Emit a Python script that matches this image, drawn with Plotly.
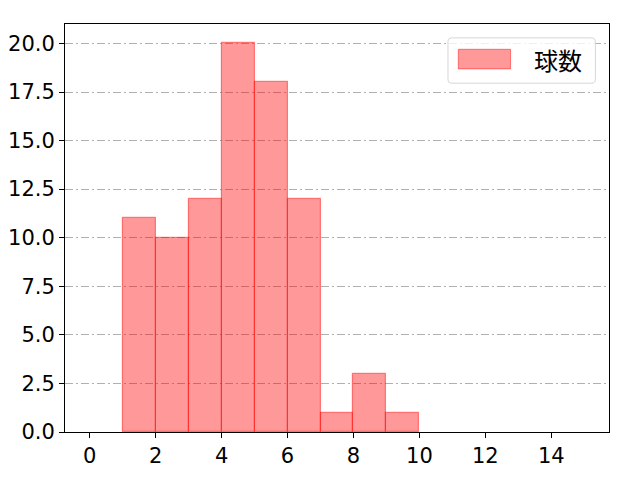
import plotly.graph_objects as go

# histogram bins (left edges) and counts
bin_left = [1, 2, 3, 4, 5, 6, 7, 8, 9]
counts = [11, 10, 12, 20, 18, 12, 1, 3, 1]
bin_width = 1
series_name = "球数"

x_ticks = [0, 2, 4, 6, 8, 10, 12, 14]
y_ticks = [0, 2.5, 5, 7.5, 10, 12.5, 15, 17.5, 20]

tick_font = "DejaVu Sans, sans-serif"
cjk_font = "Noto Sans CJK JP, sans-serif"

fig = go.Figure()

fig.add_trace(go.Bar(
    x=[b + bin_width / 2 for b in bin_left],
    y=counts,
    width=bin_width,
    marker=dict(color="rgba(255,0,0,0.4)",
                line=dict(color="rgba(255,0,0,0.45)", width=1.2)),
    name=series_name,
    showlegend=False,
))

# matplotlib-like legend box (drawn by hand to get the wide patch)
fig.add_shape(type="path", xref="paper", yref="paper",
              path="M 0.711,0.855 L 0.968,0.855 Q 0.975,0.855 0.975,0.865 "
                   "L 0.975,0.956 Q 0.975,0.966 0.968,0.966 L 0.711,0.966 "
                   "Q 0.704,0.966 0.704,0.956 L 0.704,0.865 Q 0.704,0.855 0.711,0.855 Z",
              line=dict(color="#d6d6d6", width=1), fillcolor="rgba(255,255,255,0.8)")
fig.add_shape(type="rect", xref="paper", yref="paper",
              x0=0.723, x1=0.819, y0=0.890, y1=0.938,
              line=dict(color="rgba(255,0,0,0.45)", width=1),
              fillcolor="rgba(255,0,0,0.4)")
fig.add_annotation(text=series_name, xref="paper", yref="paper",
                   x=0.858, y=0.914, xanchor="left", yanchor="middle",
                   showarrow=False, font=dict(size=24, color="black", family=cjk_font))

# page body adds an 8px offset, so the figure is shrunk by that much
fig.update_layout(
    width=632, height=472,
    margin=dict(l=57, r=31, t=16, b=48),
    paper_bgcolor="white",
    plot_bgcolor="white",
    font=dict(family=tick_font, size=21, color="black"),
    bargap=0,
    xaxis=dict(
        range=[-0.75, 15.75],
        tickvals=x_ticks,
        showgrid=False, zeroline=False,
        showline=True, linecolor="black", linewidth=1, mirror=True,
        ticks="outside", ticklen=5, tickcolor="black",
        automargin=False,
    ),
    yaxis=dict(
        range=[0, 21],
        tickvals=y_ticks,
        tickformat=".1f",
        showgrid=True, gridcolor="#b0b0b0", gridwidth=1,
        griddash="8px,3px,2px,3px",
        zeroline=False,
        showline=True, linecolor="black", linewidth=1, mirror=True,
        ticks="outside", ticklen=5, tickcolor="black",
        automargin=False,
    ),
)

fig.write_html("out.html")
